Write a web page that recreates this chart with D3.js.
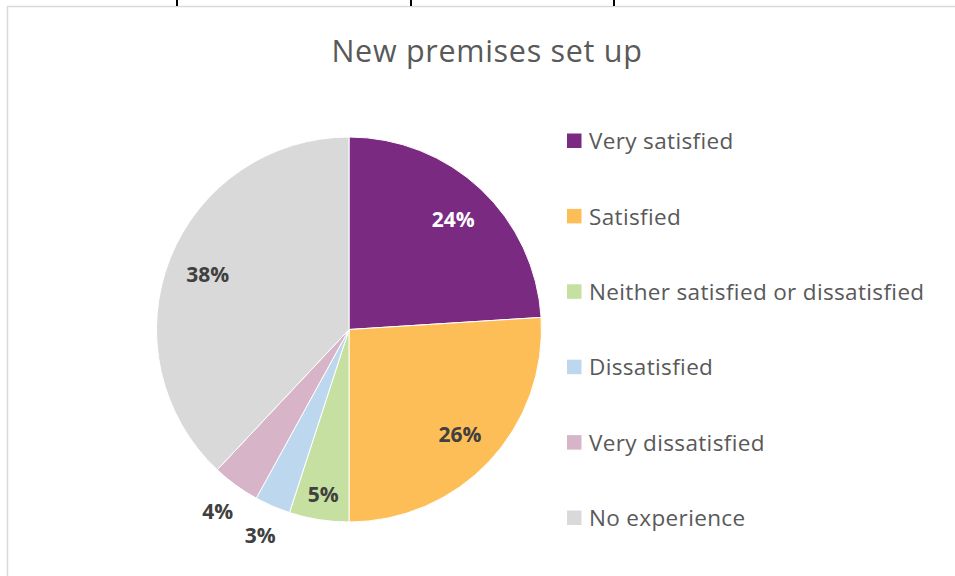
<!DOCTYPE html>
<html>
<head>
<meta charset="utf-8">
<script src="https://cdn.jsdelivr.net/npm/d3@7"></script>
<style>
  html, body { margin: 0; padding: 0; background: #fff; }
  svg { display: block; }
</style>
</head>
<body>
<svg id="chart" width="955" height="576"></svg>
<script>
// Survey responses, in clockwise order from 12 o'clock
const categories = [
  "Very satisfied",
  "Satisfied",
  "Neither satisfied or dissatisfied",
  "Dissatisfied",
  "Very dissatisfied",
  "No experience"
];
const values = [24, 26, 5, 3, 4, 38];
const colors = ["#7B2A81", "#FDBE58", "#C5E0A0", "#BDD7EE", "#D8B4C8", "#D9D9D9"];
const title = "New premises set up";

const svg = d3.select("#chart");
const W = 955, H = 576;

// frame of the chart area and the table rules above it
svg.append("line").attr("x1", 7).attr("x2", W).attr("y1", 6.5).attr("y2", 6.5)
  .attr("stroke", "#d9d9d9").attr("stroke-width", 1.5);
svg.append("line").attr("x1", 7.5).attr("x2", 7.5).attr("y1", 6).attr("y2", H)
  .attr("stroke", "#d9d9d9").attr("stroke-width", 1.5);
[177, 411, 614].forEach(x => {
  svg.append("line").attr("x1", x).attr("x2", x).attr("y1", 0).attr("y2", 6)
    .attr("stroke", "#000").attr("stroke-width", 2);
});

// title
svg.append("text")
  .attr("x", 487).attr("y", 62)
  .attr("text-anchor", "middle")
  .attr("font-family", "'Open Sans', 'Noto Sans', sans-serif")
  .attr("font-size", 30.5)
  .attr("letter-spacing", 0.7)
  .attr("fill", "#595959")
  .text(title);

// pie
const cx = 349, cy = 329.5, R = 192.5;
const pie = d3.pie().value(d => d).sort(null);
const arcs = pie(values);
const arc = d3.arc().innerRadius(0).outerRadius(R);
const color = d3.scaleOrdinal().domain(categories).range(colors);

const g = svg.append("g").attr("transform", `translate(${cx},${cy})`);
g.selectAll("path.slice")
  .data(arcs)
  .join("path")
  .attr("class", "slice")
  .attr("d", arc)
  .attr("fill", (d, i) => color(categories[i]))
  .attr("stroke", "#fff")
  .attr("stroke-width", 1);

// data labels: big slices inside, thin slices pushed outside
function labelRadius(v) {
  if (v < 5) return R * 1.16;
  if (v < 10) return R * 0.86;
  return R * 0.79;
}
g.selectAll("text.lbl")
  .data(arcs)
  .join("text")
  .attr("class", "lbl")
  .attr("transform", d => {
    const a = (d.startAngle + d.endAngle) / 2;
    const r = labelRadius(d.data);
    return `translate(${Math.sin(a) * r},${-Math.cos(a) * r})`;
  })
  .attr("text-anchor", "middle")
  .attr("dy", "0.42em")
  .attr("font-family", "'Open Sans', 'Noto Sans', sans-serif")
  .attr("font-weight", "bold")
  .attr("font-size", 21)
  .attr("fill", (d, i) => i === 0 ? "#ffffff" : "#404040")
  .text(d => d.data + "%");

// legend
const legendY = d3.scalePoint().domain(categories).range([141, 518]);
const lg = svg.append("g");
const item = lg.selectAll("g.item")
  .data(categories)
  .join("g")
  .attr("class", "item")
  .attr("transform", d => `translate(567,${legendY(d)})`);
item.append("rect")
  .attr("x", 0).attr("y", -7.5)
  .attr("width", 14.5).attr("height", 14.5)
  .attr("fill", d => color(d));
item.append("text")
  .attr("x", 22).attr("y", 0)
  .attr("dy", "0.36em")
  .attr("font-family", "'Open Sans', 'Noto Sans', sans-serif")
  .attr("font-size", 22.5)
  .attr("letter-spacing", 0.35)
  .attr("fill", "#595959")
  .text(d => d);
</script>
</body>
</html>
